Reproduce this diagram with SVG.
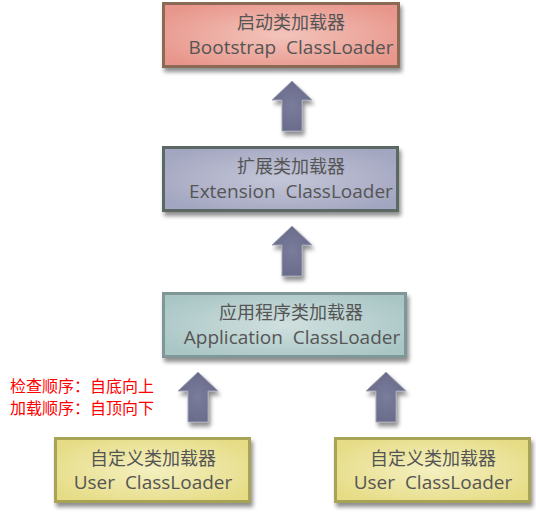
<svg xmlns="http://www.w3.org/2000/svg" width="536" height="513" viewBox="0 0 536 513">
<defs>
<filter id="sh" x="-10%" y="-10%" width="125%" height="135%">
<feGaussianBlur in="SourceAlpha" stdDeviation="2"/>
<feOffset dx="2" dy="4"/>
<feComponentTransfer><feFuncA type="linear" slope="0.45"/></feComponentTransfer>
<feMerge><feMergeNode/><feMergeNode in="SourceGraphic"/></feMerge>
</filter>
<radialGradient id="gBoot" cx="50%" cy="50%" r="60%">
<stop offset="0" stop-color="#f3c4bb"/><stop offset="1" stop-color="#e8968b"/>
</radialGradient>
<radialGradient id="gExt" cx="50%" cy="50%" r="60%">
<stop offset="0" stop-color="#c4c6d8"/><stop offset="1" stop-color="#a3a6c0"/>
</radialGradient>
<radialGradient id="gApp" cx="50%" cy="50%" r="60%">
<stop offset="0" stop-color="#d0e0df"/><stop offset="1" stop-color="#a9c6c5"/>
</radialGradient>
<radialGradient id="gUser" cx="50%" cy="50%" r="60%">
<stop offset="0" stop-color="#f4f0c0"/><stop offset="1" stop-color="#e6dc86"/>
</radialGradient>
<radialGradient id="gArr" cx="50%" cy="50%" r="60%">
<stop offset="0" stop-color="#7a7c9c"/><stop offset="1" stop-color="#676987"/>
</radialGradient>
<path id="arrow" d="M0,0 L20,19 L10,19 L10,50 L-10,50 L-10,19 L-20,19 Z"/>
</defs>
<style>
.lbl{font-family:"Noto Sans CJK SC","Open Sans",sans-serif;font-size:18px;fill:#555555;text-anchor:middle}
.en{font-family:"Open Sans","Noto Sans CJK SC",sans-serif;font-size:19px;fill:#555555;text-anchor:middle}
.red{font-family:"Noto Sans CJK SC",sans-serif;font-size:16px;fill:#ff0000}
.arr{fill:url(#gArr);stroke:#a2a4b8;stroke-width:1;filter:url(#sh)}
</style>
<g id="connectors">
<use href="#arrow" x="292" y="81" class="arr"/>
<use href="#arrow" x="292" y="226" class="arr"/>
<use href="#arrow" x="198" y="372" class="arr"/>
<use href="#arrow" x="386" y="372" class="arr"/>
</g>
<g id="bootstrap">
<rect x="163.5" y="3.5" width="235" height="63" fill="url(#gBoot)" stroke="#8b6a55" stroke-width="3" filter="url(#sh)"/>
<text x="291" y="29" class="lbl">启动类加载器</text>
<text x="291" y="54" class="en" xml:space="preserve">Bootstrap  ClassLoader</text>
</g>
<g id="extension">
<rect x="163.5" y="147.5" width="234" height="63" fill="url(#gExt)" stroke="#5c6863" stroke-width="3" filter="url(#sh)"/>
<text x="291" y="173" class="lbl">扩展类加载器</text>
<text x="291" y="198" class="en" xml:space="preserve">Extension  ClassLoader</text>
</g>
<g id="application">
<rect x="163.5" y="293.5" width="242" height="63" fill="url(#gApp)" stroke="#7f9897" stroke-width="3" filter="url(#sh)"/>
<text x="291" y="319" class="lbl">应用程序类加载器</text>
<text x="292" y="344" class="en" xml:space="preserve">Application  ClassLoader</text>
</g>
<g id="user1">
<rect x="55.5" y="438.5" width="194" height="63" fill="url(#gUser)" stroke="#a9a357" stroke-width="3" filter="url(#sh)"/>
<text x="153" y="465" class="lbl">自定义类加载器</text>
<text x="153" y="489" class="en" xml:space="preserve">User  ClassLoader</text>
</g>
<g id="user2">
<rect x="335.5" y="438.5" width="194" height="63" fill="url(#gUser)" stroke="#a9a357" stroke-width="3" filter="url(#sh)"/>
<text x="433" y="465" class="lbl">自定义类加载器</text>
<text x="433" y="489" class="en" xml:space="preserve">User  ClassLoader</text>
</g>
<g id="note">
<text x="10" y="392" class="red">检查顺序：自底向上</text>
<text x="10" y="414" class="red">加载顺序：自顶向下</text>
</g>
</svg>
